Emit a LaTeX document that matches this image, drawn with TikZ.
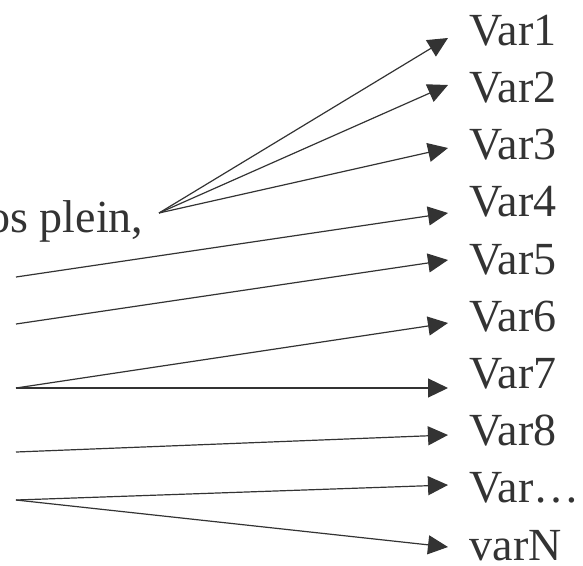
\documentclass[tikz,border=0pt]{standalone}
\usepackage{fontspec}
\setmainfont{Liberation Serif}
\usetikzlibrary{arrows.meta}

\begin{document}
\begin{tikzpicture}[x=1pt,y=-1pt,line width=1.2pt,draw=black!80]
		\tikzstyle{fleche}=[-{Triangle[length=20pt,width=19pt]},black!80]
		\tikzstyle{var}=[anchor=base west,inner sep=0pt,text=black!80,font=\fontsize{46}{46}\selectfont]
		\useasboundingbox (0,0) rectangle (583,565);
		\clip (0,0) rectangle (583,565);
		
		\node[var,anchor=base east] (plein) at (144,232) {os plein,};
		\node[var] (v1) at (469,45) {Var1};
		\node[var] (v2) at (469,102) {Var2};
		\node[var] (v3) at (469,159.5) {Var3};
		\node[var] (v4) at (469,216.5) {Var4};
		\node[var] (v5) at (469,274) {Var5};
		\node[var] (v6) at (469,331) {Var6};
		\node[var] (v7) at (469,388.5) {Var7};
		\node[var] (v8) at (469,445.5) {Var8};
		\node[var] (v9) at (469,502.5) {Var\dots};
		\node[var] (v10) at (469,560) {varN};
		
		% departs
		\coordinate (s0) at (159,213);
		\coordinate (sa) at (16,277);
		\coordinate (sb) at (16,324);
		\coordinate (sc) at (16,388);
		\coordinate (sd) at (16,452);
		\coordinate (se) at (16,500);
		% pointes
		\coordinate (t1) at (448,38);
		\coordinate (t2) at (448,85);
		\coordinate (t3) at (448,148);
		\coordinate (t4) at (448,213);
		\coordinate (t5) at (448,260);
		\coordinate (t6) at (448,323);
		\coordinate (t7) at (448,388);
		\coordinate (t8) at (448,435);
		\coordinate (t9) at (448,485);
		\coordinate (t10) at (448,547);
		
		\draw[fleche] (s0) -- (t1);
		\draw[fleche] (s0) -- (t2);
		\draw[fleche] (s0) -- (t3);
		\draw[fleche] (sa) -- (t4);
		\draw[fleche] (sb) -- (t5);
		\draw[fleche] (sc) -- (t6);
		\draw[fleche] (sc) -- (t7);
		\draw[fleche] (sd) -- (t8);
		\draw[fleche] (se) -- (t9);
		\draw[fleche] (se) -- (t10);
		\end{tikzpicture}
\end{document}
